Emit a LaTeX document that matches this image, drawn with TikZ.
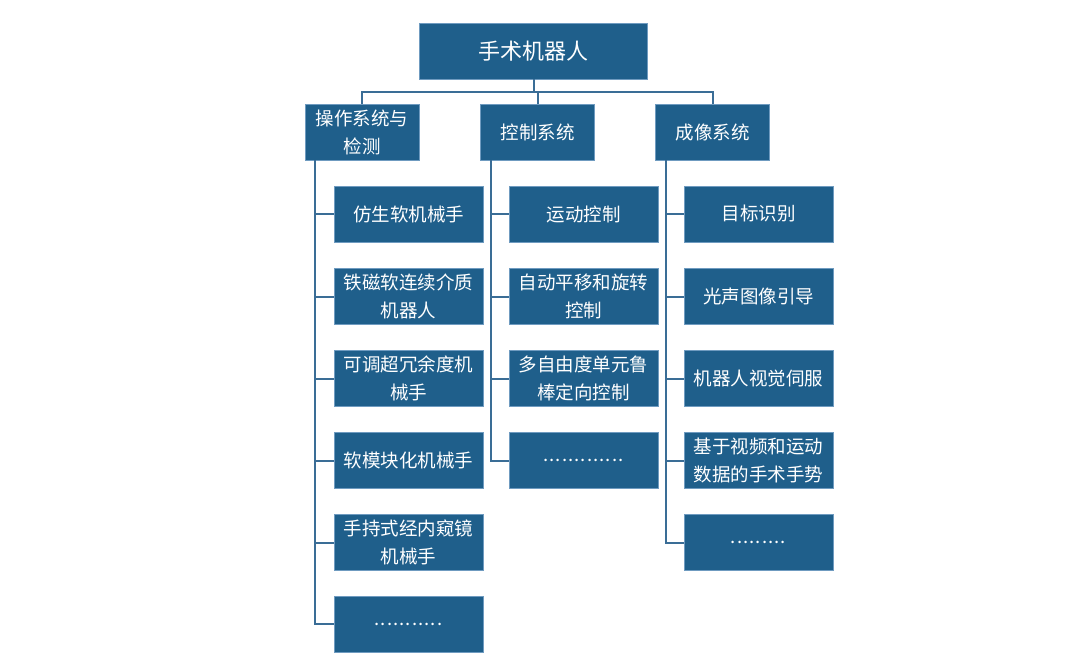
\documentclass[tikz,border=0pt]{standalone}
\usepackage{fontspec}
\setmainfont{Noto Sans CJK SC}
\usepackage{xcolor}
\usepackage{tikz}
\usetikzlibrary{calc, positioning}

\definecolor{boxblue}{HTML}{1F5F8B}
\definecolor{boxedge}{HTML}{6F9BC0}
\definecolor{linkblue}{HTML}{3A6D96}

\newcommand{\dotline}[1]{{\addfontfeature{LetterSpace=6}#1}}

\tikzset{
    box/.style={draw=boxedge, line width=0.8pt, fill=boxblue, text=white,
        align=center, inner sep=0pt, minimum height=56pt,
        font=\fontsize{18.5}{28}\selectfont},
    rootbox/.style={box, minimum width=228pt, font=\fontsize{22}{28}\selectfont},
    catbox/.style={box, minimum width=114pt},
    itembox/.style={box, minimum width=149pt},
    link/.style={draw=linkblue, line width=2pt}
}

\begin{document}
\begin{tikzpicture}[x=1pt, y=-1pt]
    \useasboundingbox (0,0) rectangle (1080,670);

    % 1. Gốc và ba nhánh
    \node[rootbox] (root) at (533.5,51) {手术机器人};
    \node[catbox] (ops) at (362,132) {操作系统与\\检测};
    \node[catbox] (ctl) at (537.5,132) {控制系统};
    \node[catbox] (img) at (712.5,132) {成像系统};

    \draw[link] (root.south) -- ++(0,13) coordinate (bus);
    \foreach \c in {ops, ctl, img} {
        \draw[link] (bus) -| (\c.north);
    }

    % 2. Cột trái
    \foreach \i/\y/\txt in {1/214/{仿生软机械手}, 2/296.5/{铁磁软连续介质\\机器人},
        3/378.5/{可调超冗余度机\\械手}, 4/460.5/{软模块化机械手},
        5/542.5/{手持式经内窥镜\\机械手}, 6/624/{\dotline{...........}}} {
        \node[itembox] (a\i) at (408.5,\y) {\txt};
        \draw[link] ([xshift=10.5pt]ops.south west) |- (a\i.west);
    }

    % 3. Cột giữa
    \foreach \i/\y/\txt in {1/214/{运动控制}, 2/296.5/{自动平移和旋转\\控制},
        3/378.5/{多自由度单元鲁\\棒定向控制}, 4/460.5/{\dotline{.............}}} {
        \node[itembox] (b\i) at (583.5,\y) {\txt};
        \draw[link] ([xshift=10.5pt]ctl.south west) |- (b\i.west);
    }

    % 4. Cột phải
    \foreach \i/\y/\txt in {1/214/{目标识别}, 2/296.5/{光声图像引导},
        3/378.5/{机器人视觉伺服}, 4/460.5/{基于视频和运动\\数据的手术手势},
        5/542.5/{\dotline{.........}}} {
        \node[itembox] (c\i) at (758.5,\y) {\txt};
        \draw[link] ([xshift=10.5pt]img.south west) |- (c\i.west);
    }
\end{tikzpicture}
\end{document}
